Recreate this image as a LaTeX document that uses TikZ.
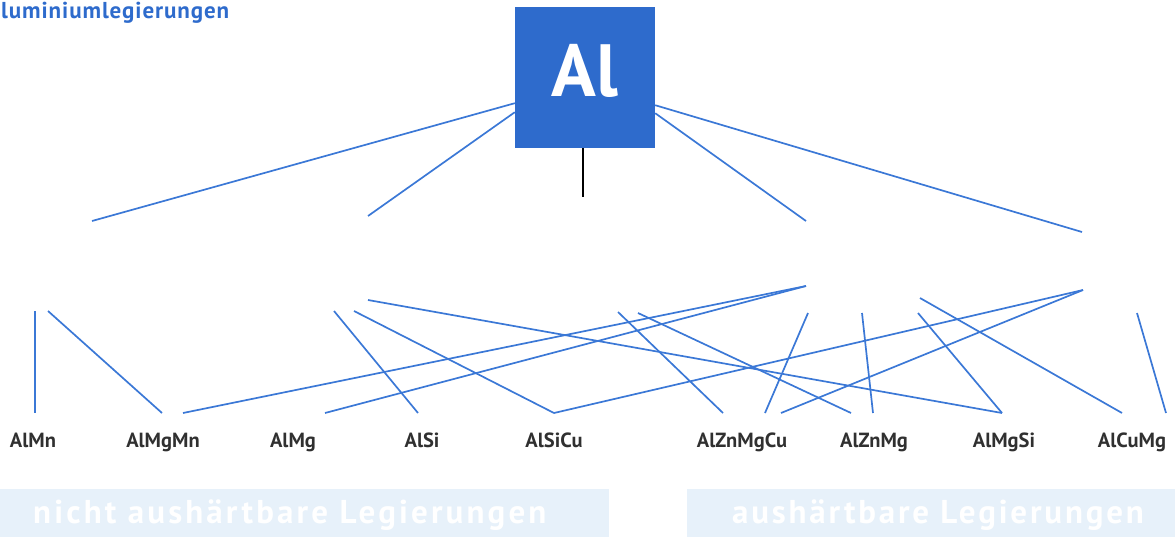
\documentclass[tikz,border=0pt]{standalone}
\usepackage{fontspec}
\setmainfont{PT Sans}
\newfontfamily\labelfont{PT Sans Bold}
\newfontfamily\alfont{PT Sans Bold}
\newfontfamily\titlefont[LetterSpace=4]{PT Sans Bold}
\newfontfamily\bandfont[LetterSpace=8.5]{PT Sans Bold}
\newfontfamily\bandfontwide[LetterSpace=9.5]{PT Sans Bold}
\usetikzlibrary{calc}
\definecolor{alblue}{HTML}{2E6BCC}
\definecolor{lineblue}{HTML}{3B78D6}
\definecolor{bandblue}{HTML}{E7F1FA}
\definecolor{labelgray}{HTML}{303030}
\begin{document}
\begin{tikzpicture}[x=1pt,y=-1pt,
  conn/.style={draw=lineblue, line width=1.7pt},
  alloy/.style={anchor=base, text=labelgray, font=\labelfont\fontsize{20.5}{24}\selectfont, inner sep=0pt},
  band/.style={fill=bandblue, draw=none},
  bandtext/.style={anchor=base west, text=white, font=\bandfont\fontsize{33}{38}\selectfont, inner sep=0pt}]
\useasboundingbox (0,0) rectangle (1175,536);
\clip (0,0) rectangle (1175,536);

% title (printed cut off at the left edge)
\node[anchor=base west, inner sep=0pt, text=alblue, font=\titlefont\fontsize{23}{27}\selectfont] (title) at (1,18) {luminiumlegierungen};

% Al box
\node[fill=alblue, minimum width=140pt, minimum height=141pt, inner sep=0pt] (Al) at (585,77.5) {};
\node[text=white, font=\alfont\fontsize{74}{80}\selectfont, inner sep=0pt] (Altext) at (585,71) {Al};

% upper free ends
\coordinate (m1) at (92,221);
\coordinate (m2) at (368,216);
\coordinate (m3) at (806,221);
\coordinate (m4) at (1082,232);
\coordinate (m0) at (583,197);

\draw[conn] ($(Al.south west)+(0,-45)$) -- (m1);
\draw[conn] ($(Al.south west)+(0,-36)$) -- (m2);
\draw[conn] ($(Al.south east)+(0,-43)$) -- (m4);
\draw[conn] ($(Al.south east)+(0,-35)$) -- (m3);
\draw[black, line width=1.6pt] ($(Al.south)+(-2,0)$) -- (m0);

% alloy labels
\node[alloy] (AlMn) at (33,447) {AlMn};
\node[alloy] (AlMgMn) at (163,447) {AlMgMn};
\node[alloy] (AlMg) at (293,447) {AlMg};
\node[alloy] (AlSi) at (422,447) {AlSi};
\node[alloy] (AlSiCu) at (554,447) {AlSiCu};
\node[alloy] (AlZnMgCu) at (742,447) {AlZnMgCu};
\node[alloy] (AlZnMg) at (874,447) {AlZnMg};
\node[alloy] (AlMgSi) at (1004,447) {AlMgSi};
\node[alloy] (AlCuMg) at (1132,447) {AlCuMg};

% lower top free ends
\coordinate (t1) at (35,311);
\coordinate (t2) at (48,311);
\coordinate (t3) at (806,286);
\coordinate (t5) at (334,311);
\coordinate (t6) at (354,311);
\coordinate (t7) at (368,300);
\coordinate (t8) at (1083,290);
\coordinate (t9) at (618,312);
\coordinate (t10) at (638,313);
\coordinate (t11) at (808,313);
\coordinate (t12) at (862,313);
\coordinate (t13) at (918,313);
\coordinate (t14) at (920,298);
\coordinate (t15) at (1137,313);

% bottom ends at the alloy labels
\coordinate (bMn) at (35,413);
\coordinate (bMgMnA) at (162,413);
\coordinate (bMgMnB) at (183,413);
\coordinate (bMg) at (325,413);
\coordinate (bSi) at (418,413);
\coordinate (bSiCu) at (554,413);
\coordinate (bZnMgCuA) at (723,413);
\coordinate (bZnMgCuB) at (765,413);
\coordinate (bZnMgCuC) at (781,413);
\coordinate (bZnMgA) at (851,413);
\coordinate (bZnMgB) at (873,413);
\coordinate (bMgSi) at (1002,413);
\coordinate (bCuMgA) at (1122,413);
\coordinate (bCuMgB) at (1166,413);

\draw[conn] (t1) -- (bMn);
\draw[conn] (t2) -- (bMgMnA);
\draw[conn] (t3) -- (bMgMnB);
\draw[conn] (t3) -- (bMg);
\draw[conn] (t5) -- (bSi);
\draw[conn] (t6) -- (bSiCu);
\draw[conn] (t7) -- (bMgSi);
\draw[conn] (t8) -- (bSiCu);
\draw[conn] (t8) -- (bZnMgCuC);
\draw[conn] (t9) -- (bZnMgCuA);
\draw[conn] (t10) -- (bZnMgA);
\draw[conn] (t11) -- (bZnMgCuB);
\draw[conn] (t12) -- (bZnMgB);
\draw[conn] (t13) -- (bMgSi);
\draw[conn] (t14) -- (bCuMgA);
\draw[conn] (t15) -- (bCuMgB);

% bottom bands
\path[band] (0,489) rectangle (609,540);
\path[band] (687,489) rectangle (1180,540);
\node[bandtext, font=\bandfontwide\fontsize{33}{38}\selectfont] (nonhard) at (33,523) {nicht aushärtbare Legierungen};
\node[bandtext] (hard) at (732,523) {aushärtbare Legierungen};
\end{tikzpicture}
\end{document}
